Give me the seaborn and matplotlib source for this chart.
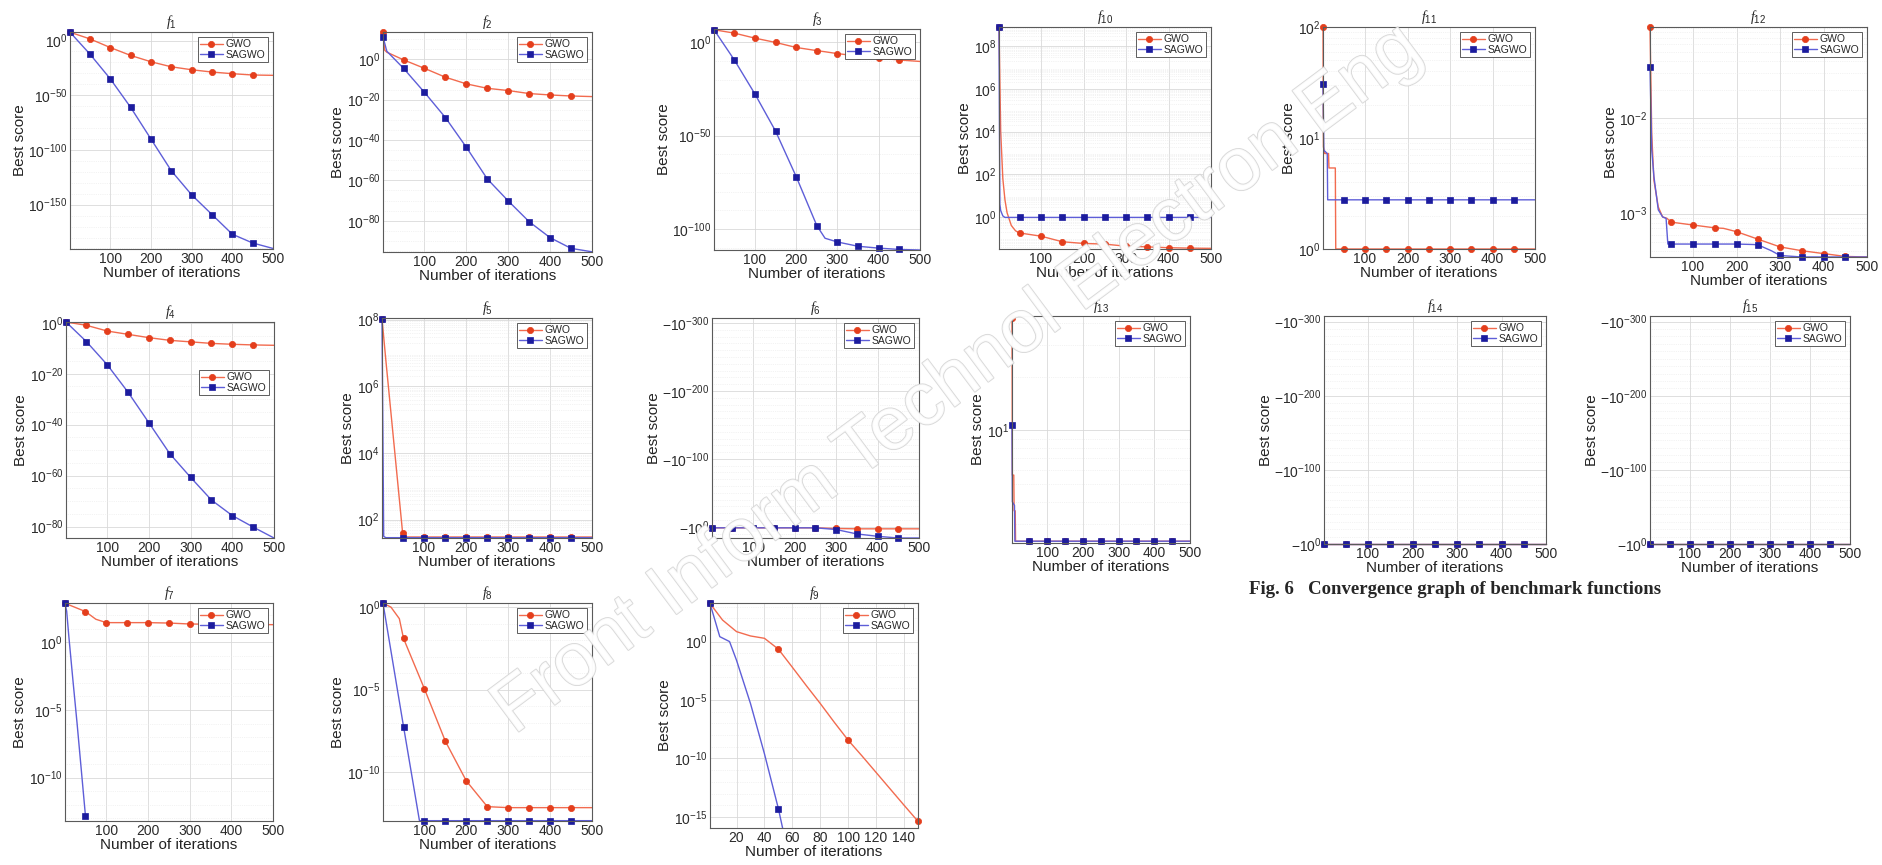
import numpy as np
import pandas as pd
import matplotlib
matplotlib.use("Agg")
import matplotlib.pyplot as plt
import matplotlib.patheffects as pe
import seaborn as sns
from matplotlib.ticker import FixedLocator, FuncFormatter, NullFormatter

W, H = 1883, 865

# iterations where the markers sit
marks_500 = [1, 50, 100, 150, 200, 250, 300, 350, 400, 450]
marks_150 = [1, 50, 100, 150]
iters = [1, 50, 100, 150, 200, 250, 300, 350, 400, 450, 500]

# best score values stored as log10(best score)
f1_gwo = [7.6, 1.5, -6.4, -13.6, -19.4, -24.0, -26.7, -28.8, -30.3, -31.5, -31.8]
f1_sagwo = [7.6, -12.4, -35.0, -61.0, -90.0, -119.0, -141.0, -159.0, -177.0, -185.0, -190.0]

x_f2 = [1, 5, 10, 50, 100, 150, 200, 250, 300, 350, 400, 450, 500]
f2_gwo = [13.4, 4.5, 3.5, -0.3, -4.5, -8.9, -12.2, -14.4, -15.5, -17.0, -17.7, -18.2, -18.5]
f2_sagwo = [10.9, 8.0, 4.0, -4.5, -16.4, -28.9, -43.6, -59.3, -70.2, -80.5, -88.4, -93.7, -95.4]

x_f3 = [1, 50, 100, 150, 200, 250, 270, 300, 350, 400, 450, 500]
f3_gwo = [6.8, 5.0, 2.3, 0.0, -2.7, -4.4, -5.0, -6.0, -7.3, -8.4, -9.4, -10.2]
f3_sagwo = [6.8, -9.3, -27.6, -47.5, -71.9, -98.2, -105.0, -107.0, -109.3, -110.3, -111.0, -111.3]

x_f10g = [1, 5, 10, 15, 20, 30, 40, 50, 100, 150, 200, 250, 300, 350, 400, 450, 500]
f10_gwo = [8.9, 4.0, 1.8, 0.8, 0.2, -0.4, -0.65, -0.75, -0.9, -1.16, -1.24, -1.27, -1.37, -1.4, -1.44, -1.46, -1.47]
x_f10s = [1, 3, 5, 10, 15, 50, 100, 150, 200, 250, 300, 350, 400, 450, 500]
f10_sagwo = [8.9, 0.6, 0.3, 0.05, -0.02, -0.02, -0.02, -0.02, -0.02, -0.02, -0.02, -0.02, -0.02, -0.02, -0.02]

x_f11g = [1, 2, 5, 14, 15, 30, 31, 50, 100, 150, 200, 250, 300, 350, 400, 450, 500]
f11_gwo = [2.0, 0.92, 0.86, 0.86, 0.73, 0.73, 0.0, 0.0, 0.0, 0.0, 0.0, 0.0, 0.0, 0.0, 0.0, 0.0, 0.0]
x_f11s = [1, 3, 11, 12, 50, 100, 150, 200, 250, 300, 350, 400, 450, 500]
f11_sagwo = [1.49, 0.89, 0.86, 0.443, 0.443, 0.443, 0.443, 0.443, 0.443, 0.443, 0.443, 0.443, 0.443, 0.443]

x_f12g = [1, 5, 10, 20, 30, 40, 50, 100, 150, 170, 200, 250, 300, 350, 400, 450, 500]
f12_gwo = [-1.04, -2.16, -2.65, -2.93, -3.035, -3.05, -3.09, -3.12, -3.15, -3.155, -3.19, -3.27, -3.35, -3.39, -3.42, -3.45, -3.456]
x_f12s = [1, 5, 10, 20, 30, 38, 42, 50, 100, 150, 200, 240, 250, 280, 300, 350, 400, 450, 500]
f12_sagwo = [-1.456, -2.33, -2.61, -2.96, -3.035, -3.05, -3.32, -3.32, -3.32, -3.32, -3.32, -3.325, -3.33, -3.39, -3.44, -3.456, -3.456, -3.456, -3.456]

f4_gwo = [0.3, -1.0, -3.25, -4.55, -5.85, -6.9, -7.5, -8.1, -8.45, -8.7, -8.85]
f4_sagwo = [0.3, -7.4, -16.5, -27.3, -39.3, -51.4, -60.7, -69.6, -75.7, -80.2, -84.5]

x_f5g = [1, 10, 20, 30, 40, 50, 60, 100, 150, 200, 250, 300, 350, 400, 450, 500]
f5_gwo = [8.03, 6.8, 5.5, 4.2, 2.9, 1.6, 1.48, 1.48, 1.48, 1.48, 1.48, 1.48, 1.48, 1.48, 1.48, 1.48]
x_f5s = [1, 5, 10, 50, 100, 150, 200, 250, 300, 350, 400, 450, 500]
f5_sagwo = [8.03, 1.5, 1.46, 1.46, 1.46, 1.46, 1.46, 1.46, 1.46, 1.46, 1.46, 1.46, 1.46]

# f6, f14, f15 are negative: log10 of |best score|
f6_gwo = [1.5, 1.5, 1.5, 1.5, 1.5, 1.5, 2.5, 3.0, 3.0, 3.0, 3.0]
f6_sagwo = [1.5, 1.5, 1.5, 1.5, 1.5, 1.5, 4.0, 10.5, 14.0, 16.5, 16.5]

x_f13g = [1, 2, 6, 7, 10, 11, 50, 100, 150, 200, 250, 300, 350, 400, 450, 500]
f13_gwo = [1.63, 0.75, 0.75, 0.55, 0.55, 0.38, 0.38, 0.38, 0.38, 0.38, 0.38, 0.38, 0.38, 0.38, 0.38, 0.38]
x_f13s = [1, 2, 8, 9, 50, 100, 150, 200, 250, 300, 350, 400, 450, 500]
f13_sagwo = [1.03, 0.6, 0.58, 0.38, 0.38, 0.38, 0.38, 0.38, 0.38, 0.38, 0.38, 0.38, 0.38, 0.38]

f14_gwo = [0.0, 0.0, 0.0, 0.0, 0.0, 0.0, 0.0, 0.0, 0.0, 0.0, 0.0]
f14_sagwo = [0.0, 0.0, 0.0, 0.0, 0.0, 0.0, 0.0, 0.0, 0.0, 0.0, 0.0]
f15_gwo = [0.0, 0.0, 0.0, 0.0, 0.0, 0.0, 0.0, 0.0, 0.0, 0.0, 0.0]
f15_sagwo = [0.0, 0.0, 0.0, 0.0, 0.0, 0.0, 0.0, 0.0, 0.0, 0.0, 0.0]

x_f7g = [1, 50, 75, 100, 150, 200, 250, 300, 350, 400, 450, 500]
f7_gwo = [2.88, 2.27, 1.7, 1.45, 1.45, 1.45, 1.42, 1.35, 1.33, 1.32, 1.31, 1.3]
x_f7s = [1, 5, 10, 20, 30, 40, 50]
f7_sagwo = [2.88, 2.3, 0.5, -2.8, -6.0, -9.4, -12.8]

x_f8g = [1, 20, 40, 50, 100, 150, 200, 250, 300, 350, 400, 450, 500]
f8_gwo = [0.24, 0.0, -0.7, -1.9, -4.96, -8.14, -10.54, -12.1, -12.16, -12.16, -12.16, -12.16, -12.16]
x_f8s = [1, 50, 88, 100, 150, 200, 250, 300, 350, 400, 450, 500]
f8_sagwo = [0.24, -7.24, -12.95, -12.95, -12.95, -12.95, -12.95, -12.95, -12.95, -12.95, -12.95, -12.95]

x_f9g = [1, 10, 20, 30, 40, 50, 60, 70, 80, 90, 100, 110, 120, 130, 140, 150]
f9_gwo = [3.26, 1.84, 0.85, 0.48, 0.28, -0.65, -2.2, -3.77, -5.3, -6.9, -8.44, -9.8, -11.2, -12.6, -14.0, -15.38]
x_f9s = [1, 8, 15, 20, 30, 40, 50, 53]
f9_sagwo = [3.26, 0.42, 0.0, -1.6, -5.3, -9.6, -14.3, -15.95]

# layout: name, axes box (left, top, right, bottom) in pixels, series, y range (log10), ticks
panels = [
    dict(name="1", box=(70, 32, 273, 249), g=(iters, f1_gwo), s=(iters, f1_sagwo),
         ylim=(-190.5, 7.8), yt=[-150, -100, -50, 0], minor=10),
    dict(name="2", box=(383, 32, 592, 252), g=(x_f2, f2_gwo), s=(x_f2, f2_sagwo),
         ylim=(-95.5, 13.5), yt=[-80, -60, -40, -20, 0], minor=5),
    dict(name="3", box=(714, 29, 920, 250), g=(x_f3, f3_gwo), s=(x_f3, f3_sagwo),
         ylim=(-111.3, 7.2), yt=[-100, -50, 0], minor=10),
    dict(name="10", box=(999, 27, 1211, 249), g=(x_f10g, f10_gwo), s=(x_f10s, f10_sagwo),
         ylim=(-1.5, 8.9), yt=[0, 2, 4, 6, 8], minor="sub"),
    dict(name="11", box=(1323, 27, 1535, 249), g=(x_f11g, f11_gwo), s=(x_f11s, f11_sagwo),
         ylim=(0.0, 2.0), yt=[0, 1, 2], minor="sub"),
    dict(name="12", box=(1650, 27, 1867, 257), g=(x_f12g, f12_gwo), s=(x_f12s, f12_sagwo),
         ylim=(-3.456, -1.04), yt=[-3, -2], minor="sub"),
    dict(name="4", box=(66, 322, 274, 538), g=(iters, f4_gwo), s=(iters, f4_sagwo),
         ylim=(-84.5, 0.3), yt=[-80, -60, -40, -20, 0], minor=5, leg=(1.0, 0.8)),
    dict(name="5", box=(382, 318, 592, 538), g=(x_f5g, f5_gwo), s=(x_f5s, f5_sagwo),
         ylim=(1.45, 8.05), yt=[2, 4, 6, 8], minor="sub"),
    dict(name="6", box=(712, 318, 919, 538), g=(iters, f6_gwo), s=(iters, f6_sagwo),
         ylim=(16.5, -307.5), yt=[-300, -200, -100, 0], minor=10, neg=True),
    dict(name="13", box=(1012, 316, 1190, 543), g=(x_f13g, f13_gwo), s=(x_f13s, f13_sagwo),
         ylim=(0.37, 1.64), yt=[1], minor="sub"),
    dict(name="14", box=(1324, 316, 1546, 544), g=(iters, f14_gwo), s=(iters, f14_sagwo),
         ylim=(0.0, -307.6), yt=[-300, -200, -100, 0], minor=10, neg=True),
    dict(name="15", box=(1650, 316, 1850, 544), g=(iters, f15_gwo), s=(iters, f15_sagwo),
         ylim=(0.0, -307.6), yt=[-300, -200, -100, 0], minor=10, neg=True),
    dict(name="7", box=(65, 603, 273, 821), g=(x_f7g, f7_gwo), s=(x_f7s, f7_sagwo),
         ylim=(-13.2, 2.9), yt=[-10, -5, 0], minor=1),
    dict(name="8", box=(383, 603, 592, 821), g=(x_f8g, f8_gwo), s=(x_f8s, f8_sagwo),
         ylim=(-12.97, 0.25), yt=[-10, -5, 0], minor=1),
    dict(name="9", box=(710, 603, 918, 828), g=(x_f9g, f9_gwo), s=(x_f9s, f9_sagwo),
         ylim=(-15.95, 3.3), yt=[-15, -10, -5, 0], minor=1, xmax=150),
]

sns.set_theme(style="white")
plt.rcParams["font.family"] = ["Liberation Sans", "DejaVu Sans"]
plt.rcParams["mathtext.fontset"] = "custom"
plt.rcParams["mathtext.rm"] = "Liberation Sans"
plt.rcParams["mathtext.it"] = "Liberation Serif:italic"

GWO_LINE, GWO_MARK = "#f26b4f", "#e43e1c"
SAG_LINE, SAG_MARK = "#5e5ed8", "#1c1c9e"

fig = plt.figure(figsize=(W / 100, H / 100), dpi=100)


def draw_series(ax, x, logs, label, marker, lc, mc, marks):
    vals = 10.0 ** np.array(logs)
    df = pd.DataFrame({"x": x, "y": vals})
    idx = [i for i, v in enumerate(x) if v in marks]
    sns.lineplot(data=df, x="x", y="y", ax=ax, estimator=None, sort=False,
                 color=lc, lw=1.0, marker=marker, markevery=idx, ms=4.5,
                 markerfacecolor=mc, markeredgecolor=mc, mew=0.5,
                 label=label, clip_on=False)


for p in panels:
    l, t, r, b = p["box"]
    ax = fig.add_axes([l / W, 1 - b / H, (r - l) / W, (b - t) / H])
    ax.set_yscale("log")
    xmax = p.get("xmax", 500)
    marks = marks_150 if xmax == 150 else marks_500
    neg = p.get("neg", False)
    draw_series(ax, *p["g"], "GWO", "o", GWO_LINE, GWO_MARK, marks)
    draw_series(ax, *p["s"], "SAGWO", "s", SAG_LINE, SAG_MARK, marks)

    ax.set_xlim(1, xmax)
    ax.set_xticks([20, 40, 60, 80, 100, 120, 140] if xmax == 150 else [100, 200, 300, 400, 500])
    lo, hi = p["ylim"]
    ax.set_ylim(10.0 ** lo, 10.0 ** hi)
    ax.yaxis.set_major_locator(FixedLocator([10.0 ** k for k in p["yt"]]))
    if neg:
        ax.yaxis.set_major_formatter(FuncFormatter(
            lambda v, _: r"$\mathregular{-10^{%d}}$" % round(np.log10(v))))
    else:
        ax.yaxis.set_major_formatter(FuncFormatter(
            lambda v, _: r"$\mathregular{10^{%d}}$" % round(np.log10(v))))
    lo_e, hi_e = sorted([lo, hi])
    if p["minor"] == "sub":
        mins = [m * 10.0 ** k for k in range(int(np.floor(lo_e)) - 1, int(np.ceil(hi_e)) + 1)
                for m in range(2, 10)]
    else:
        st = p["minor"]
        mins = [10.0 ** k for k in np.arange(np.floor(lo_e / st) * st, hi_e + st, st)
                if k not in p["yt"]]
    mins = [m for m in mins if 10.0 ** lo_e <= m <= 10.0 ** hi_e]
    ax.yaxis.set_minor_locator(FixedLocator(mins))
    ax.yaxis.set_minor_formatter(NullFormatter())

    ax.grid(True, which="major", color="#d9d9d9", lw=0.6)
    ax.grid(True, which="minor", axis="y", color="#e8e8e8", lw=0.5, ls=":")
    for sp in ax.spines.values():
        sp.set_color("#5a5a5a")
        sp.set_linewidth(0.8)
    ax.tick_params(axis="both", which="major", direction="in", length=3, width=0.6,
                   labelsize=10, pad=2, colors="#2a2a2a")
    ax.tick_params(axis="y", which="minor", direction="in", length=1.5, width=0.4)
    ax.set_xlabel("Number of iterations", fontsize=11, labelpad=0, color="#222222")
    ax.set_ylabel("Best score", fontsize=11, labelpad=1, color="#222222")
    ax.set_title(r"$f_{%s}$" % p["name"], fontsize=10, pad=4)

    leg_kw = dict(fontsize=7.5, fancybox=False, edgecolor="#444444", framealpha=1,
                  handlelength=2.2, labelspacing=0.05, borderpad=0.2,
                  handletextpad=0.3, borderaxespad=0.5)
    if "leg" in p:
        ax.legend(loc="upper right", bbox_to_anchor=p["leg"], **leg_kw)
    else:
        ax.legend(loc="upper right", **leg_kw)
    ax.get_legend().get_frame().set_linewidth(0.6)

fig.text(1249 / W, 1 - 590 / H, "Fig. 6   Convergence graph of benchmark functions",
         fontfamily="Liberation Serif", fontweight="bold", fontsize=13.5,
         ha="left", va="center")

fig.text(958 / W, 1 - 380 / H, "Front Inform Technol Electron Eng",
         rotation=36.7, rotation_mode="anchor", fontsize=54, color="white",
         alpha=0.85, ha="center", va="center", zorder=100,
         path_effects=[pe.withStroke(linewidth=1.3, foreground="#d2d2d2")])

fig.savefig("out.png", dpi=100)
